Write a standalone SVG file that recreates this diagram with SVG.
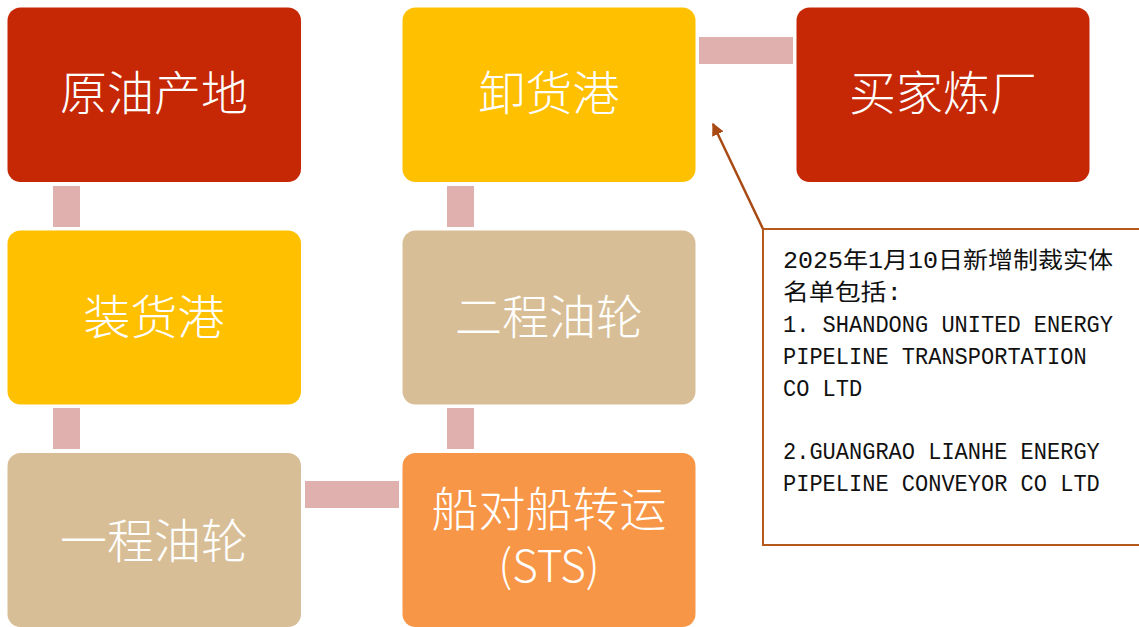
<svg xmlns="http://www.w3.org/2000/svg" width="1139" height="627" viewBox="0 0 1139 627">
<defs>
<style>
.box{stroke:none}
.red{fill:#C62805}
.yel{fill:#FFC000}
.tan{fill:#D8BE96}
.org{fill:#F79646}
.lbl{font-family:"Noto Sans CJK SC","Noto Sans",sans-serif;font-size:47px;fill:#FFFFFF;text-anchor:middle;font-weight:300}
.sts{font-size:44px}
.con{fill:#E0B0AF}
.note{font-family:"Liberation Mono","Noto Sans CJK SC",monospace;font-size:23px;fill:#111111}
</style>
<marker id="ah" viewBox="0 0 10 10" refX="9" refY="5" markerWidth="5" markerHeight="5" orient="auto" markerUnits="strokeWidth">
<path d="M0,0 L10,5 L0,10 Z" fill="#A94A14"/>
</marker>
</defs>
<rect width="1139" height="627" fill="#FFFFFF"/>
<g id="connectors">
<rect class="con" x="53" y="186" width="27" height="41"/>
<rect class="con" x="53" y="408" width="27" height="41"/>
<rect class="con" x="305" y="481" width="94" height="27"/>
<rect class="con" x="447" y="408" width="27" height="41"/>
<rect class="con" x="447" y="186" width="27" height="41"/>
<rect class="con" x="699" y="37" width="94" height="27"/>
<line x1="763" y1="229" x2="713" y2="124" stroke="#A94A14" stroke-width="2.5" marker-end="url(#ah)"/>
</g>
<g id="n1"><rect class="box red" x="7.5" y="7.5" width="293.5" height="174.5" rx="13"/><text class="lbl" x="154" y="110">原油产地</text></g>
<g id="n2"><rect class="box yel" x="7.5" y="230.5" width="293.5" height="174" rx="13"/><text class="lbl" x="154" y="334">装货港</text></g>
<g id="n3"><rect class="box tan" x="7.5" y="453" width="293.5" height="174" rx="13"/><text class="lbl" x="154" y="558">一程油轮</text></g>
<g id="n4"><rect class="box org" x="402.5" y="453" width="293" height="174" rx="13"/><text class="lbl" x="549" y="526">船对船转运<tspan class="sts" x="549" y="582">(STS)</tspan></text></g>
<g id="n5"><rect class="box tan" x="402.5" y="230.5" width="293" height="174" rx="13"/><text class="lbl" x="549" y="334">二程油轮</text></g>
<g id="n6"><rect class="box yel" x="402.5" y="7.5" width="293" height="174.5" rx="13"/><text class="lbl" x="549" y="110">卸货港</text></g>
<g id="n7"><rect class="box red" x="796.5" y="7.5" width="293" height="174.5" rx="13"/><text class="lbl" x="943" y="110">买家炼厂</text></g>
<g id="note">
<rect x="763" y="229" width="377" height="316" fill="#FFFFFF" stroke="#B5581C" stroke-width="2"/>
<text class="note" x="783" y="268" textLength="330" lengthAdjust="spacingAndGlyphs">2025年1月10日新增制裁实体</text>
<text class="note" x="783" y="300" textLength="119" lengthAdjust="spacingAndGlyphs">名单包括:</text>
<text class="note" x="783" y="332" textLength="330" lengthAdjust="spacingAndGlyphs">1. SHANDONG UNITED ENERGY</text>
<text class="note" x="783" y="364" textLength="303.6" lengthAdjust="spacingAndGlyphs">PIPELINE TRANSPORTATION</text>
<text class="note" x="783" y="396" textLength="79.2" lengthAdjust="spacingAndGlyphs">CO LTD</text>
<text class="note" x="783" y="459" textLength="316.8" lengthAdjust="spacingAndGlyphs">2.GUANGRAO LIANHE ENERGY</text>
<text class="note" x="783" y="491" textLength="316.8" lengthAdjust="spacingAndGlyphs">PIPELINE CONVEYOR CO LTD</text>
</g>
</svg>
